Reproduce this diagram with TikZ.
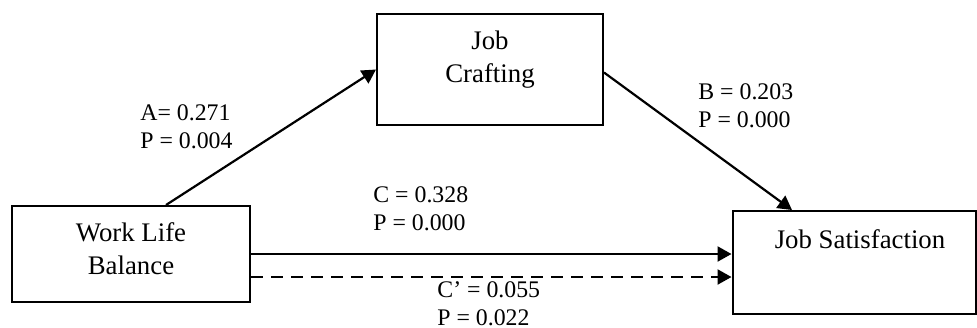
\documentclass[tikz,border=0pt]{standalone}
\usepackage{fontspec}
\setmainfont{Liberation Serif}
\usepackage{tikz}
\usetikzlibrary{arrows.meta,positioning}
\tikzset{
  box/.style={draw=black, line width=1pt, inner sep=0pt},
  boxtxt/.style={font=\fontsize{13.4}{16.5}\selectfont, align=center, inner sep=0pt},
  lab/.style={font=\fontsize{11.9}{14}\selectfont, align=left, inner sep=0pt, anchor=west},
  link/.style={draw=black, line width=1.1pt, -{Triangle[length=7pt,width=7.5pt]}},
  linkd/.style={link, dash pattern=on 6pt off 4pt},
}
\begin{document}
\begin{tikzpicture}[x=0.5pt,y=-0.5pt]
  \useasboundingbox (0,0) rectangle (977,327);
  % boxes
  \node[box, minimum width=119pt, minimum height=48pt] (wlb) at (131,254) {};
  \node[box, minimum width=113pt, minimum height=55.5pt] (jc) at (490,69.5) {};
  \node[box, minimum width=121.5pt, minimum height=51.5pt] (js) at (854,262.5) {};
  \node[boxtxt] (wlbtxt) at (131,249) {Work Life\\Balance};
  \node[boxtxt] (jctxt) at (490,60) {Job\\Crafting};
  \node[boxtxt] (jstxt) at (860,239) {Job Satisfaction};
  % paths
  \draw[link] ([xshift=17.5pt]wlb.north) -- (jc.west);
  \draw[link] ([yshift=-1.5pt]jc.east) -- ([xshift=-31pt]js.north);
  \draw[link] (wlb.east) -- (wlb.east -| js.west);
  \draw[linkd] ([yshift=-11.5pt]wlb.east) -- ([yshift=-11.5pt]wlb.east -| js.west);
  % coefficients
  \node[lab] (la) at (140,127) {A= 0.271\\P = 0.004};
  \node[lab] (lb) at (698,106) {B = 0.203\\P = 0.000};
  \node[lab] (lc) at (373,209) {C = 0.328\\P = 0.000};
  \node[lab] (ld) at (437,304) {C’ = 0.055\\P = 0.022};
\end{tikzpicture}
\end{document}
